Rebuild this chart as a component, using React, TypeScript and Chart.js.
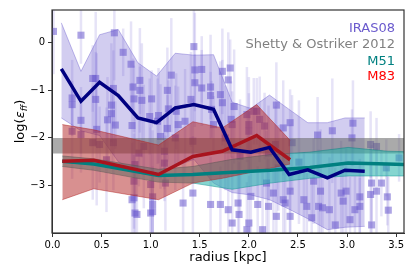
import React, { useEffect, useRef } from 'react';
import { Chart, registerables } from 'chart.js';
Chart.register(...registerables);

const X_MIN = -0.005;
const X_MAX = 3.58;
const Y_MIN = -4.0;
const Y_MAX = 0.69;
const X_TICKS = [0, 0.5, 1, 1.5, 2, 2.5, 3, 3.5];
const Y_TICKS = [-3, -2, -1, 0];

// IRAS08 individual measurements
const irasR = [
  0.01, 0.29, 0.63, 0.72, 0.80, 0.41, 0.44, 0.62, 0.82, 0.89, 0.89, 0.83, 0.91, 1.01, 1.17, 0.44, 0.20, 0.20, 0.60, 0.60,
  0.56, 0.29, 0.64, 0.45, 0.99, 1.08, 1.18, 1.21, 1.17, 0.81, 1.44, 1.45, 1.52, 1.73, 1.81, 1.79, 1.45, 1.52, 1.61, 1.61,
  1.71, 1.73, 1.26, 1.41, 1.62, 1.85, 2.05, 2.28, 1.35, 1.64, 1.82, 2.35, 2.42, 2.85, 3.06, 3.05, 2.70, 3.24, 3.30, 3.53,
  3.40, 2.51, 3.25, 3.35, 3.30, 3.41, 3.42, 3.24, 3.13, 3.13, 3.03, 2.88, 3.25, 2.94, 2.96, 2.73, 2.66, 2.56, 2.59, 2.71,
  2.75, 2.42, 2.35, 2.42, 2.64, 2.82, 3.08, 2.99, 0.20, 0.41, 0.48, 0.62, 1.07, 1.10, 0.88, 0.93, 1.14, 0.84, 1.00, 0.83,
  1.02, 1.02, 0.86, 1.00, 1.15, 1.43, 1.25, 1.14, 1.43, 1.33, 1.61, 1.71, 1.79, 1.89, 1.90, 1.83, 2.00, 2.02, 2.09, 2.20,
  2.25, 2.28, 2.18, 2.37, 2.11, 2.08, 2.00, 2.00, 1.76, 1.83, 1.91, 2.30, 2.27, 2.20, 0.29, 0.55, 0.83, 0.81, 0.84, 1.98,
  2.14, 1.28, 1.98, 2.16, 1.02, 2.44,
];
const irasLogEff = [
  0.24, 0.16, 0.21, -0.20, -0.45, -0.75, -0.75, -0.96, -0.93, -0.79, -1.00, -1.18, -1.21, -1.18, -1.00, -1.19, -1.16, -1.30, -1.31, -1.49,
  -1.62, -1.63, -1.73, -1.82, -1.55, -1.53, -1.39, -0.68, -1.80, -1.74, -0.08, -0.57, -0.56, -0.60, -0.53, -0.78, -0.84, -0.95, -0.93, -1.11,
  -1.09, -1.26, -1.44, -1.19, -1.40, -1.34, -1.44, -1.31, -1.65, -1.72, -1.61, -1.79, -1.68, -1.85, -1.69, -2.00, -1.94, -2.14, -2.18, -2.42,
  -2.63, -2.51, -2.95, -2.95, -3.12, -3.24, -3.52, -3.19, -3.24, -3.44, -3.72, -3.83, -3.83, -3.16, -3.33, -3.12, -2.91, -3.30, -3.44, -3.44,
  -3.47, -3.12, -3.30, -3.65, -3.68, -3.51, -3.51, -3.12, -1.86, -2.10, -2.14, -2.10, -1.65, -1.97, -2.32, -2.18, -2.28, -2.56, -2.98, -3.26,
  -3.24, -3.40, -3.61, -3.58, -2.95, -2.07, -2.00, -2.53, -3.16, -3.37, -3.40, -3.40, -3.51, -3.37, -3.61, -3.79, -3.79, -3.23, -3.40, -3.44,
  -3.16, -3.65, -2.95, -3.37, -1.61, -1.44, -1.72, -1.86, -2.00, -1.72, -2.39, -2.63, -2.14, -2.32, -1.93, -2.46, -2.91, -3.30, -3.58, -3.93,
  -3.93, -1.72, -1.51, -1.75, -3.55, -2.10,
];
const irasErr = [
  0.9, 0.6, 1.0, 0.5, 0.9, 0.7, 1.4, 0.8, 0.6, 1.1, 0.5, 0.7, 1.2, 0.6, 0.9, 1.0, 0.8, 0.5, 1.3, 0.6,
  0.9, 0.7, 0.5, 1.6, 0.8, 1.0, 0.6, 1.2, 0.7, 0.9, 0.8, 1.2, 0.7, 0.9, 0.6, 1.0, 0.6, 0.8, 1.1, 0.5,
  0.7, 0.9, 0.8, 1.0, 0.6, 1.2, 0.7, 0.9, 1.1, 0.6, 0.8, 1.0, 0.7, 1.1, 0.9, 0.6, 0.8, 0.7, 0.6, 0.5,
  0.6, 1.3, 0.8, 0.7, 0.9, 0.6, 0.7, 1.0, 0.8, 0.6, 0.9, 1.2, 0.7, 1.1, 0.8, 1.3, 0.9, 1.0, 0.7, 1.2,
  0.6, 1.4, 0.9, 1.0, 0.8, 1.1, 0.7, 0.9, 1.0, 1.2, 0.8, 1.0, 0.9, 1.1, 0.7, 1.3, 0.8, 1.0, 1.2, 0.9,
  1.4, 0.8, 1.1, 0.7, 1.0, 0.9, 1.1, 0.8, 1.2, 0.9, 1.0, 0.8, 1.3, 0.9, 1.1, 1.4, 1.0, 1.2, 0.8, 1.0,
  0.9, 1.3, 1.1, 0.8, 0.9, 0.7, 1.0, 0.8, 1.1, 0.7, 1.2, 0.9, 0.8, 1.0, 0.8, 1.1, 1.0, 1.2, 0.9, 1.0,
  1.2, 0.8, 1.0, 0.7, 0.9, 1.0,
];

// IRAS08 running median and 16th/84th percentiles
const medR = [0.09, 0.29, 0.48, 0.67, 0.87, 1.06, 1.25, 1.44, 1.64, 1.83, 2.02, 2.21, 2.41, 2.60, 2.80, 2.98, 3.18];
const medLogEff = [-0.55, -1.23, -0.83, -1.11, -1.58, -1.68, -1.37, -1.30, -1.40, -2.25, -2.30, -2.20, -2.77, -2.67, -2.84, -2.68, -2.70];
const medHigh = [0.42, -0.60, 0.17, 0.28, -0.42, -0.70, -0.22, -0.26, -0.25, -1.25, -1.38, -1.10, -1.40, -1.68, -1.68, -1.58, -1.58];
const medLow = [-1.58, -1.85, -1.95, -2.50, -2.74, -2.80, -2.60, -2.45, -2.95, -3.15, -3.20, -3.30, -3.50, -3.70, -3.93, -3.88, -3.86];

// Shetty & Ostriker 2012 range
const shettyHigh = -2.0;
const shettyLow = -2.33;

// M51
const m51R = [0.10, 0.42, 1.08, 1.43, 1.83, 2.22, 2.62, 3.01, 3.41, 3.80];
const m51LogEff = [-2.49, -2.55, -2.79, -2.77, -2.72, -2.68, -2.62, -2.53, -2.55, -2.57];
const m51High = [-2.38, -2.44, -2.66, -2.60, -2.45, -2.35, -2.30, -2.20, -2.28, -2.30];
const m51Low = [-2.60, -2.68, -2.93, -2.95, -3.08, -2.95, -2.85, -2.80, -2.80, -2.80];

// M83
const m83R = [0.10, 0.42, 1.08, 1.43, 1.73, 2.08, 2.42];
const m83LogEff = [-2.49, -2.47, -2.77, -2.39, -2.28, -1.95, -2.46];
const m83High = [-1.72, -1.83, -2.15, -1.66, -1.79, -1.30, -2.05];
const m83Low = [-3.30, -3.07, -3.30, -2.95, -2.85, -2.70, -2.55];

const LEGEND = [
  { text: 'IRAS08', color: '#6a5acd' },
  { text: 'Shetty & Ostriker 2012', color: '#808080' },
  { text: 'M51', color: '#008080' },
  { text: 'M83', color: '#ff0000' },
];

const FONT = '"DejaVu Sans", sans-serif';

const pts = (xs: number[], ys: number[]) => xs.map((x, i) => ({ x, y: ys[i] }));

const errorBarPlugin = {
  id: 'errbars',
  beforeDatasetsDraw(chart: any) {
    const { ctx, chartArea, scales } = chart;
    const xs = scales.x;
    const ys = scales.y;
    ctx.save();
    ctx.beginPath();
    ctx.rect(chartArea.left, chartArea.top, chartArea.right - chartArea.left, chartArea.bottom - chartArea.top);
    ctx.clip();
    ctx.strokeStyle = 'rgba(106,90,205,0.17)';
    ctx.lineWidth = 2.5;
    irasR.forEach((r, i) => {
      const px = xs.getPixelForValue(r);
      ctx.beginPath();
      ctx.moveTo(px, ys.getPixelForValue(irasLogEff[i] + irasErr[i]));
      ctx.lineTo(px, ys.getPixelForValue(irasLogEff[i] - irasErr[i]));
      ctx.stroke();
    });
    ctx.restore();
  },
};

const framePlugin = {
  id: 'frame',
  afterDatasetsDraw(chart: any) {
    const { ctx, chartArea } = chart;
    ctx.save();
    ctx.strokeStyle = '#333';
    ctx.lineWidth = 1.2;
    ctx.strokeRect(chartArea.left, chartArea.top, chartArea.right - chartArea.left, chartArea.bottom - chartArea.top);
    ctx.restore();
  },
};

const textPlugin = {
  id: 'texts',
  afterDraw(chart: any) {
    const { ctx, chartArea } = chart;
    ctx.save();
    ctx.font = `13px ${FONT}`;
    ctx.textAlign = 'right';
    ctx.textBaseline = 'alphabetic';
    const baselines = [31.5, 48, 64.5, 79.5];
    LEGEND.forEach((l, i) => {
      ctx.fillStyle = l.color;
      ctx.fillText(l.text, chartArea.right - 9, baselines[i]);
    });
    ctx.fillStyle = '#000';
    ctx.font = `13px ${FONT}`;
    ctx.textAlign = 'center';
    ctx.textBaseline = 'middle';
    ctx.fillText('radius [kpc]', (chartArea.left + chartArea.right) / 2, 258);
    const cy = (chartArea.top + chartArea.bottom) / 2;
    ctx.translate(19, cy);
    ctx.rotate(-Math.PI / 2);
    ctx.textAlign = 'left';
    ctx.textBaseline = 'alphabetic';
    const normal = `13px ${FONT}`;
    const ital = `italic 13px ${FONT}`;
    const sub = `italic 9px ${FONT}`;
    const parts = [
      { t: 'log(', f: normal, dy: 0 },
      { t: 'ε', f: ital, dy: 0 },
      { t: 'ff', f: sub, dy: 3 },
      { t: ')', f: normal, dy: 0 },
    ];
    let total = 0;
    parts.forEach((p) => { ctx.font = p.f; total += ctx.measureText(p.t).width; });
    let xx = -total / 2;
    parts.forEach((p) => {
      ctx.font = p.f;
      ctx.fillText(p.t, xx, 5 + p.dy);
      xx += ctx.measureText(p.t).width;
    });
    ctx.restore();
  },
};

export default function App() {
  const ref = useRef<HTMLCanvasElement | null>(null);
  useEffect(() => {
    if (!ref.current) return;
    Chart.defaults.font.family = FONT;
    const band = (data: any, color: string, edge: string, fill: any, order: number) => ({
      type: 'line',
      data,
      borderColor: edge,
      borderWidth: 0.8,
      backgroundColor: color,
      fill,
      pointRadius: 0,
      tension: 0,
      order,
    });
    const chart = new Chart(ref.current, {
      type: 'line',
      data: {
        datasets: [
          { type: 'line', data: pts(medR, medLogEff), borderColor: '#000080', borderWidth: 3.5, pointRadius: 0, fill: false, order: 0 },
          { type: 'line', data: pts(m83R, m83LogEff), borderColor: '#a8141e', borderWidth: 3.5, pointRadius: 0, fill: false, order: 1 },
          { type: 'line', data: pts(m51R, m51LogEff), borderColor: '#008080', borderWidth: 3.5, pointRadius: 0, fill: false, order: 2 },
          band(pts(m83R, m83High), 'rgba(178,34,34,0.5)', 'rgba(178,34,34,0.6)', '+1', 3),
          band(pts(m83R, m83Low), 'rgba(0,0,0,0)', 'rgba(178,34,34,0.6)', false, 3),
          band(pts(m51R, m51High), 'rgba(32,178,170,0.55)', 'rgba(0,128,128,0.6)', '+1', 5),
          band(pts(m51R, m51Low), 'rgba(0,0,0,0)', 'rgba(0,128,128,0.6)', false, 5),
          band([{ x: X_MIN, y: shettyHigh }, { x: X_MAX, y: shettyHigh }], 'rgba(100,100,100,0.55)', 'rgba(100,100,100,0)', '+1', 7),
          band([{ x: X_MIN, y: shettyLow }, { x: X_MAX, y: shettyLow }], 'rgba(0,0,0,0)', 'rgba(100,100,100,0)', false, 7),
          band(pts(medR, medHigh), 'rgba(106,90,205,0.3)', 'rgba(106,90,205,0.5)', '+1', 9),
          band(pts(medR, medLow), 'rgba(0,0,0,0)', 'rgba(106,90,205,0.5)', false, 9),
          {
            type: 'scatter',
            data: pts(irasR, irasLogEff),
            pointStyle: 'rect',
            pointRadius: 5,
            backgroundColor: 'rgba(106,90,205,0.55)',
            borderWidth: 0,
            order: 12,
          },
        ],
      } as any,
      options: {
        animation: false,
        responsive: true,
        maintainAspectRatio: false,
        layout: { padding: { left: 0, right: 11, top: 10, bottom: 0 } },
        plugins: { legend: { display: false }, tooltip: { enabled: false } },
        scales: {
          x: {
            type: 'linear',
            min: X_MIN,
            max: X_MAX,
            afterBuildTicks: (s: any) => { s.ticks = X_TICKS.map((v) => ({ value: v })); },
            afterFit: (s: any) => { s.height = 44; },
            ticks: { font: { size: 10, family: FONT }, color: '#000', padding: 2, maxRotation: 0, callback: (v: any) => Number(v).toFixed(1) },
            grid: { display: true, drawOnChartArea: false, drawTicks: true, tickLength: 4, color: '#333' },
            border: { display: true, color: '#333' },
          },
          y: {
            type: 'linear',
            min: Y_MIN,
            max: Y_MAX,
            afterBuildTicks: (s: any) => { s.ticks = Y_TICKS.map((v) => ({ value: v })); },
            afterFit: (s: any) => { s.width = 52; },
            ticks: { font: { size: 10, family: FONT }, color: '#000', padding: 3, callback: (v: any) => String(v).replace('-', '\u2212') },
            grid: { display: true, drawOnChartArea: false, drawTicks: true, tickLength: 4, color: '#333' },
            border: { display: true, color: '#333' },
          },
        },
      } as any,
      plugins: [errorBarPlugin, framePlugin, textPlugin],
    });
    return () => chart.destroy();
  }, []);
  return (
    <div style={{ position: 'absolute', left: 0, top: 0, width: 415, height: 277 }}>
      <canvas ref={ref} />
    </div>
  );
}
